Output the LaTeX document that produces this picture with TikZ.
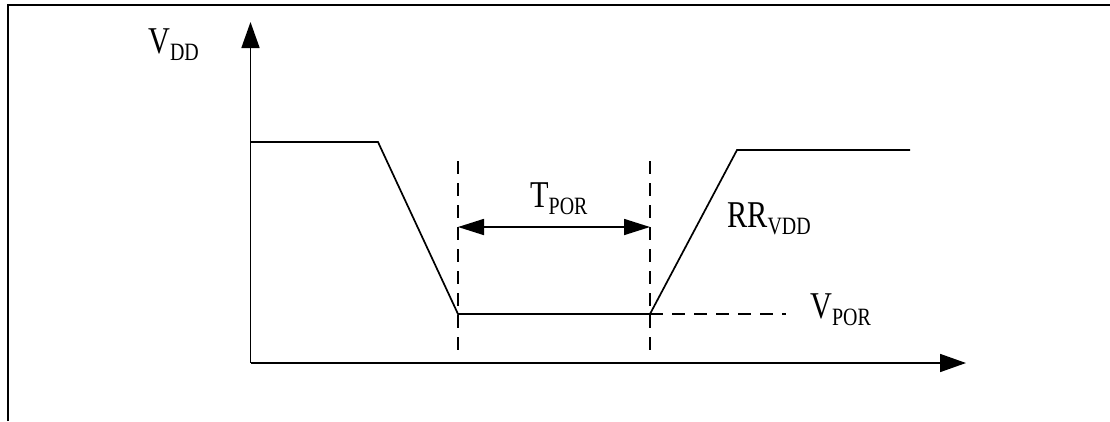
\documentclass[tikz,border=0pt]{standalone}
\usepackage{fontspec}
\usetikzlibrary{arrows.meta}
\newfontfamily\lblfont[FakeStretch=0.8]{Liberation Serif}
\tikzset{
  x=1bp, y=-1bp,
  solidline/.style={line width=1.7bp, black},
  dashline/.style={line width=1.5bp, black, dash pattern=on 13bp off 9bp},
  axisarrow/.style={solidline, -{Triangle[length=26bp, width=18bp]}},
  dimarrow/.style={solidline, {Triangle[length=26bp, width=16bp]}-{Triangle[length=26bp, width=16bp]}},
  lbl/.style={inner sep=0pt, anchor=base west, font=\lblfont\fontsize{38}{40}\selectfont}
}
\newcommand{\sbs}[1]{\raisebox{-7bp}{\fontsize{25}{26}\selectfont #1}}
\begin{document}
\begin{tikzpicture}
\useasboundingbox (0,0) rectangle (1110,421);
% frame (top and left edges only)
\coordinate (fa) at (8,421);
\coordinate (fb) at (8,5);
\coordinate (fc) at (1110,5);
\draw[line width=2bp] (fa) -- (fb) -- (fc);
% axes
\coordinate (o) at (250.5,363);
\coordinate (ytop) at (250.5,22);
\coordinate (xend) at (966,363);
\draw[axisarrow] (o) -- (ytop);
\draw[axisarrow] (o) -- (xend);
% waveform
\coordinate (h0) at (250.5,142);
\coordinate (h1) at (378,142);
\coordinate (l0) at (458,314);
\coordinate (l1) at (650,314);
\coordinate (h2) at (737,150);
\coordinate (h3) at (910,150);
\draw[solidline] (h0) -- (h1) -- (l0) -- (l1) -- (h2) -- (h3);
% dashed guides
\coordinate (d1t) at (458,161);
\coordinate (d1b) at (458,350);
\coordinate (d2t) at (650,161);
\coordinate (d2b) at (650,350);
\coordinate (vpe) at (786,314);
\draw[dashline] (d1t) -- (d1b);
\draw[dashline] (d2t) -- (d2b);
\draw[dashline] (l1) -- (vpe);
% T_POR dimension
\coordinate (ta) at (458,227);
\coordinate (tb) at (650,227);
\draw[dimarrow] (ta) -- (tb);
% labels
\node[lbl] (vdd) at (148,53) {V\sbs{DD}};
\node[lbl] (tpor) at (530,207) {T\sbs{POR}};
\node[lbl] (rr) at (727,227) {RR\sbs{VDD}};
\node[lbl] (vpor) at (810,318) {V\sbs{POR}};
\end{tikzpicture}
\end{document}
